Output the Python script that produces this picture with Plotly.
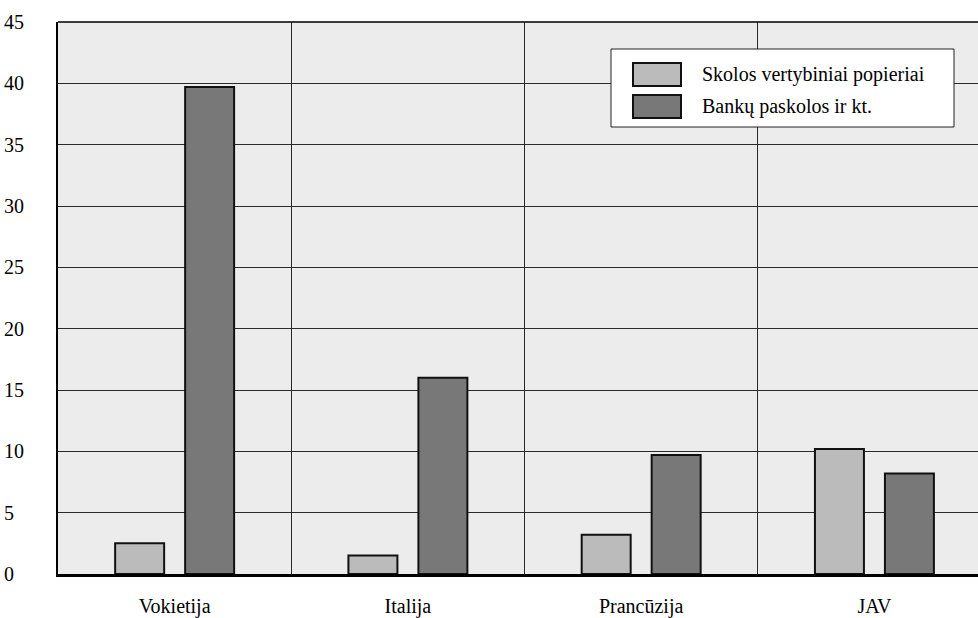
import plotly.graph_objects as go

# Countries and values (percent)
countries = ["Vokietija", "Italija", "Prancūzija", "JAV"]
series_names = ["Skolos vertybiniai popieriai", "Bankų paskolos ir kt."]
debt_securities = [2.5, 1.5, 3.2, 10.2]
bank_loans = [39.7, 16.0, 9.7, 8.2]
y_ticks = list(range(0, 46, 5))

light_gray = "#bbbbbb"
dark_gray = "#787878"
font_family = "Liberation Serif"

W, H = 978, 618
ML, MR, MT, MB = 58, 0, 22, 44

x_pos = list(range(len(countries)))

fig = go.Figure()
fig.add_trace(go.Bar(
    x=x_pos, y=debt_securities, name=series_names[0],
    marker=dict(color=light_gray, line=dict(color="#111111", width=2)),
))
fig.add_trace(go.Bar(
    x=x_pos, y=bank_loans, name=series_names[1],
    marker=dict(color=dark_gray, line=dict(color="#111111", width=2)),
))

# single-digit labels padded with a figure space so all labels line up on the left
y_text = [str(v) if v >= 10 else str(v) + "\u2007" for v in y_ticks]

fig.update_layout(
    width=W, height=H,
    margin=dict(l=ML, r=MR, t=MT, b=MB, pad=0),
    paper_bgcolor="white",
    plot_bgcolor="#ececec",
    barmode="group",
    bargap=0.4,
    bargroupgap=0.3,
    showlegend=False,
    font=dict(family=font_family, size=20, color="black"),
    xaxis=dict(
        range=[-0.5, 3.444], automargin=False,
        tickmode="array", tickvals=x_pos, ticktext=countries,
        showgrid=False, zeroline=False,
        showline=True, linecolor="black", linewidth=3,
        ticks="", ticklabelstandoff=12,
        minor=dict(tickmode="array", tickvals=[0.5, 1.5, 2.5],
                   showgrid=True, gridcolor="#2a2a2a", gridwidth=1, ticks=""),
    ),
    yaxis=dict(
        range=[0, 45], automargin=False,
        tickmode="array", tickvals=y_ticks, ticktext=y_text,
        showgrid=True, gridcolor="#2a2a2a", gridwidth=1,
        zeroline=False,
        showline=True, linecolor="black", linewidth=2,
        ticks="", ticklabelstandoff=28,
    ),
)

# Legend box drawn in paper coordinates
def px_x(p):
    return (p - ML) / (W - ML - MR)

def px_y(p):
    return (H - MB - p) / (H - MT - MB)

shapes = [
    dict(type="line", xref="paper", yref="paper", x0=0, x1=1, y0=1, y1=1,
         line=dict(color="black", width=1.5)),
    dict(type="rect", xref="paper", yref="paper",
         x0=px_x(611), x1=px_x(954), y0=px_y(127), y1=px_y(49),
         fillcolor="white", line=dict(color="#222222", width=1)),
]
annotations = []
legend_rows = [(series_names[0], light_gray, 63, 86), (series_names[1], dark_gray, 95, 118)]
for name, color, top, bottom in legend_rows:
    shapes.append(dict(type="rect", xref="paper", yref="paper",
                       x0=px_x(633), x1=px_x(681), y0=px_y(bottom), y1=px_y(top),
                       fillcolor=color, line=dict(color="#111111", width=2)))
    annotations.append(dict(xref="paper", yref="paper", x=px_x(700),
                            y=px_y((top + bottom) / 2), text=name, showarrow=False,
                            xanchor="left", yanchor="middle",
                            font=dict(family=font_family, size=20, color="black")))

fig.update_layout(shapes=shapes, annotations=annotations)

fig.write_html("out.html")
